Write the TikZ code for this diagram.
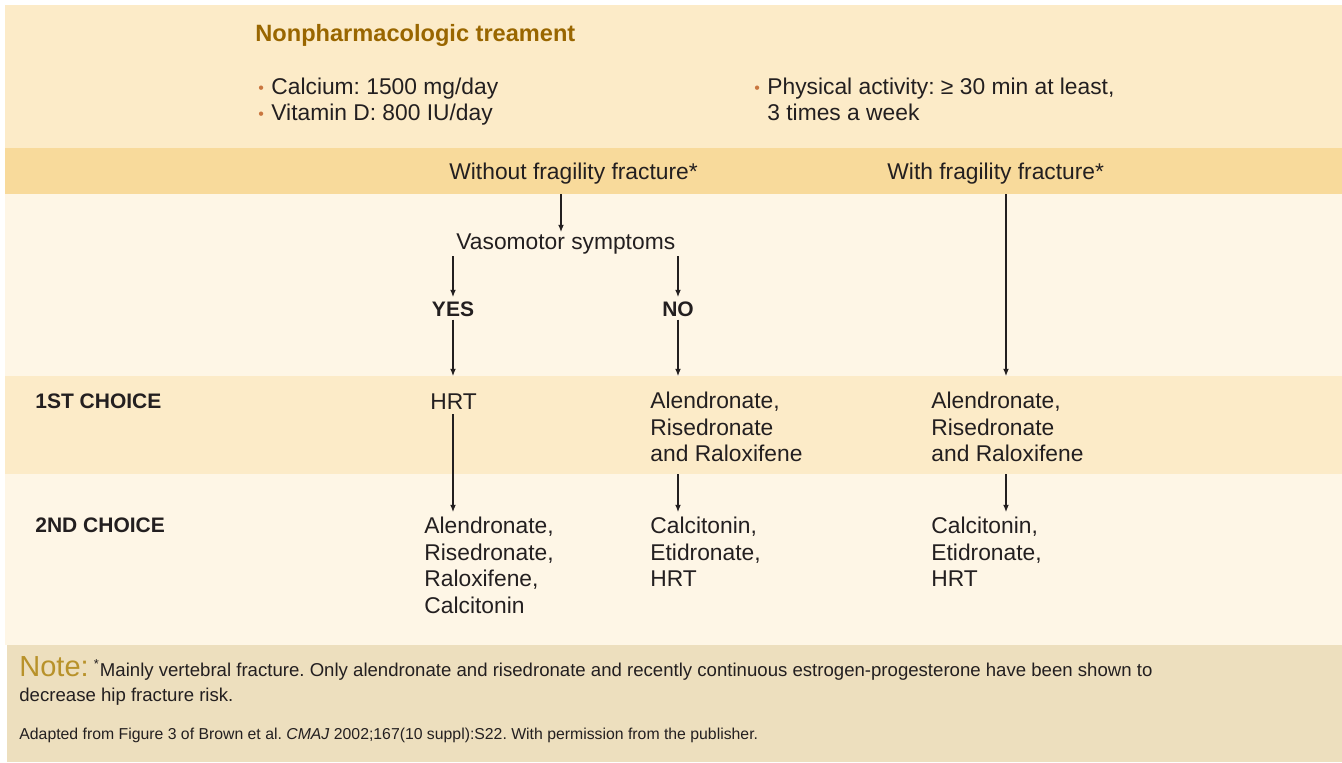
\documentclass[tikz,border=0pt]{standalone}
\usepackage{fontspec}
\setmainfont{Liberation Sans}
\usetikzlibrary{arrows.meta}
\frenchspacing
\definecolor{bandtop}{HTML}{FCEBC8}
\definecolor{bandhead}{HTML}{F8DA9B}
\definecolor{cream}{HTML}{FEF6E6}
\definecolor{notebg}{HTML}{EDDFBE}
\definecolor{titlebrown}{HTML}{996600}
\definecolor{notegold}{HTML}{B8922A}
\definecolor{bulletorange}{HTML}{C9763F}
\definecolor{ink}{HTML}{231F20}
\newcommand{\orangebul}{\makebox[6.5pt][l]{\raisebox{0.6pt}{\fontsize{8}{8}\selectfont\color{bulletorange}\textbullet}}}

\begin{document}
\begin{tikzpicture}[x=0.5pt,y=-0.5pt,
  txt/.style={anchor=north west,inner sep=0,align=left,text=ink,font=\fontsize{11.4}{13.25}\selectfont},
  lbl/.style={inner sep=0,text=ink,font=\fontsize{10.5}{12}\selectfont\bfseries},
  arr/.style={-{Latex[length=3.6pt,width=2.9pt]},line width=0.55pt,ink}]
\useasboundingbox (0,0) rectangle (1342,762);
% background bands
\fill[white] (0,0) rectangle (1342,762);
\fill[bandtop] (5,5) rectangle (1342,148);
\fill[bandhead] (5,148) rectangle (1342,194);
\fill[cream] (5,194) rectangle (1342,376);
\fill[bandtop] (5,376) rectangle (1342,474);
\fill[cream] (5,474) rectangle (1342,645);
\fill[notebg] (7,645) rectangle (1342,762);
\coordinate (wo) at (561,194);
\coordinate (wf) at (1006,194);
\coordinate (r1) at (0,376);
\coordinate (r2) at (0,474);

% general measures
\node[txt,anchor=north west,text=titlebrown,font=\fontsize{11.8}{14}\selectfont\bfseries] (title) at (255,24) {Nonpharmacologic treament};
\node[txt,font=\fontsize{11.4}{13}\selectfont] (calc) at (258,78) {\orangebul Calcium: 1500 mg/day\\\orangebul Vitamin D: 800 IU/day};
\node[txt,font=\fontsize{11.4}{13}\selectfont] (phys) at (754,78) {\orangebul Physical activity: ≥ 30 min at least,\\\hspace*{6.5pt}3 times a week};

% decision tree
\node[txt] (without) at (449,163) {Without fragility fracture*};
\node[txt] (with) at (887,163) {With fragility fracture*};
\node[txt] (vaso) at (456,233) {Vasomotor symptoms};
\node[lbl,anchor=north] (yes) at (453,301) {YES};
\node[lbl,anchor=north] (no) at (678,301) {NO};

\node[lbl,anchor=north west] (first) at (35,393) {1ST CHOICE};
\node[lbl,anchor=north west] (second) at (35,517) {2ND CHOICE};

\node[txt] (hrt) at (430,393) {HRT};
\node[txt] (altb) at (650,392) {Alendronate,\\Risedronate\\and Raloxifene};
\node[txt] (altc) at (931,392) {Alendronate,\\Risedronate\\and Raloxifene};
\node[txt] (seca) at (424,517) {Alendronate,\\Risedronate,\\Raloxifene,\\Calcitonin};
\node[txt] (secb) at (650,517) {Calcitonin,\\Etidronate,\\HRT};
\node[txt] (secc) at (931,517) {Calcitonin,\\Etidronate,\\HRT};

\draw[arr,shorten >=0.5pt] (wo) -- (wo |- vaso.north);
\draw[arr,shorten <=1pt,shorten >=2pt] (yes |- vaso.south) -- (yes.north);
\draw[arr,shorten <=1pt,shorten >=2pt] (no |- vaso.south) -- (no.north);
\draw[arr,shorten <=1.5pt] (yes.south) -- (yes |- r1);
\draw[arr,shorten <=1.5pt] (no.south) -- (no |- r1);
\draw[arr] (wf) -- (wf |- r1);
\draw[arr,shorten <=2.5pt,shorten >=2.5pt] (yes |- hrt.south) -- (yes |- seca.north);
\draw[arr,shorten >=2.5pt] (no |- r2) -- (no |- secb.north);
\draw[arr,shorten >=2.5pt] (wf |- r2) -- (wf |- secc.north);

% note
\node[txt,font=\fontsize{9.3}{12.5}\selectfont] (note) at (19,656) {{\fontsize{14.5}{12.5}\selectfont\color{notegold}Note:} \textsuperscript{*}Mainly vertebral fracture. Only alendronate and risedronate and recently continuous estrogen-progesterone have been shown to\\decrease hip fracture risk.};
\node[txt,font=\fontsize{7.9}{9}\selectfont] (source) at (19,728) {Adapted from Figure 3 of Brown et al. \textit{CMAJ} 2002;167(10 suppl):S22. With permission from the publisher.};
\end{tikzpicture}
\end{document}
